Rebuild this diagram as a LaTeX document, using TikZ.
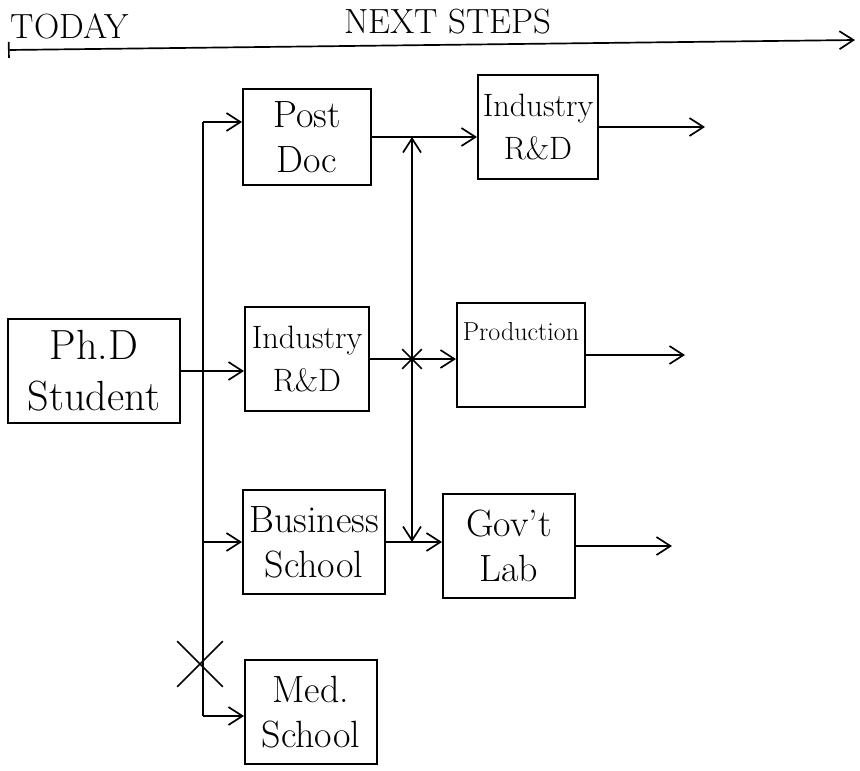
\documentclass[tikz,border=0pt]{standalone}
\usetikzlibrary{arrows.meta,shapes.misc}
\begin{document}
\begin{tikzpicture}[x=0.025cm, y=-0.025cm,
	box/.style={rectangle, draw, line width=1.4pt, minimum height=2.6cm, inner sep=2pt, align=center, font=\fontsize{27}{32}\selectfont},
	flow/.style={-{Straight Barb[length=3.5mm,width=4.5mm]}, line width=1.2pt},
	nix/.style={cross out, draw, line width=1.2pt}]
	\useasboundingbox (0,0) rectangle (860,770);
	\path
	(70,26) node[font=\Huge](today){TODAY}
	(448,22) node[font=\Huge](next){NEXT STEPS}
	(94,371) node[box, minimum width=4.3cm, font=\fontsize{30}{36}\selectfont](phd){Ph.D\\Student}
	(307,137) node[box, minimum width=3.2cm, minimum height=2.4cm](postdoc){Post\\Doc}
	(307,359) node[box, minimum width=3.1cm, font=\fontsize{23}{30}\selectfont](indmid){Industry\\R\&D}
	(314,542) node[box, minimum width=3.55cm](bschool){Business\\School}
	(311,712) node[box, minimum width=3.3cm](mschool){Med.\\School}
	(538,127) node[box, minimum width=3cm, font=\fontsize{23}{30}\selectfont](indright){Industry\\R\&D}
	(521,355) node[box, minimum width=3.2cm, font=\fontsize{18.5}{22}\selectfont](prod){Production\\[0.4cm]\mbox{}}
	(509,546) node[box, minimum width=3.3cm](govlab){Gov't\\Lab}
	;
	% time line
	\coordinate (tstart) at (8,50);
	\coordinate (tend) at (855,40);
	\draw[{Bar[width=4mm]}-{Straight Barb[length=3.5mm,width=4.5mm]}, line width=1.2pt] (tstart)--(tend);
	% first trunk
	\coordinate (jtop) at (203,122);
	\coordinate (jbot) at (203,716);
	\draw[line width=1.2pt] (jtop)--(jbot);
	\draw[flow] (jtop)--(jtop -| postdoc.west);
	\draw[flow] (phd.east)--(phd.east -| indmid.west);
	\draw[flow] (bschool.west -| jtop)--(bschool.west);
	\draw[flow] (jbot)--(jbot -| mschool.west);
	\path (200,664) node[nix, minimum size=1.1cm](blocked){};
	% second trunk
	\coordinate (k) at (412,359);
	\draw[flow] (postdoc.east)--(postdoc.east -| indright.west);
	\draw[flow] (indmid.east)--(indmid.east -| prod.west);
	\draw[flow] (bschool.east)--(bschool.east -| govlab.west);
	\draw[flow, {Straight Barb[length=3.5mm,width=4.5mm]}-{Straight Barb[length=3.5mm,width=4.5mm]}] (k |- postdoc.east)--(k |- bschool.east);
	\path (indmid.east -| k) node[nix, minimum size=0.45cm](junction){};
	% onward
	\coordinate (out1) at (705,127);
	\coordinate (out2) at (685,355);
	\coordinate (out3) at (672,546);
	\draw[flow] (indright.east)--(out1);
	\draw[flow] (prod.east)--(out2);
	\draw[flow] (govlab.east)--(out3);
\end{tikzpicture}
\end{document}
